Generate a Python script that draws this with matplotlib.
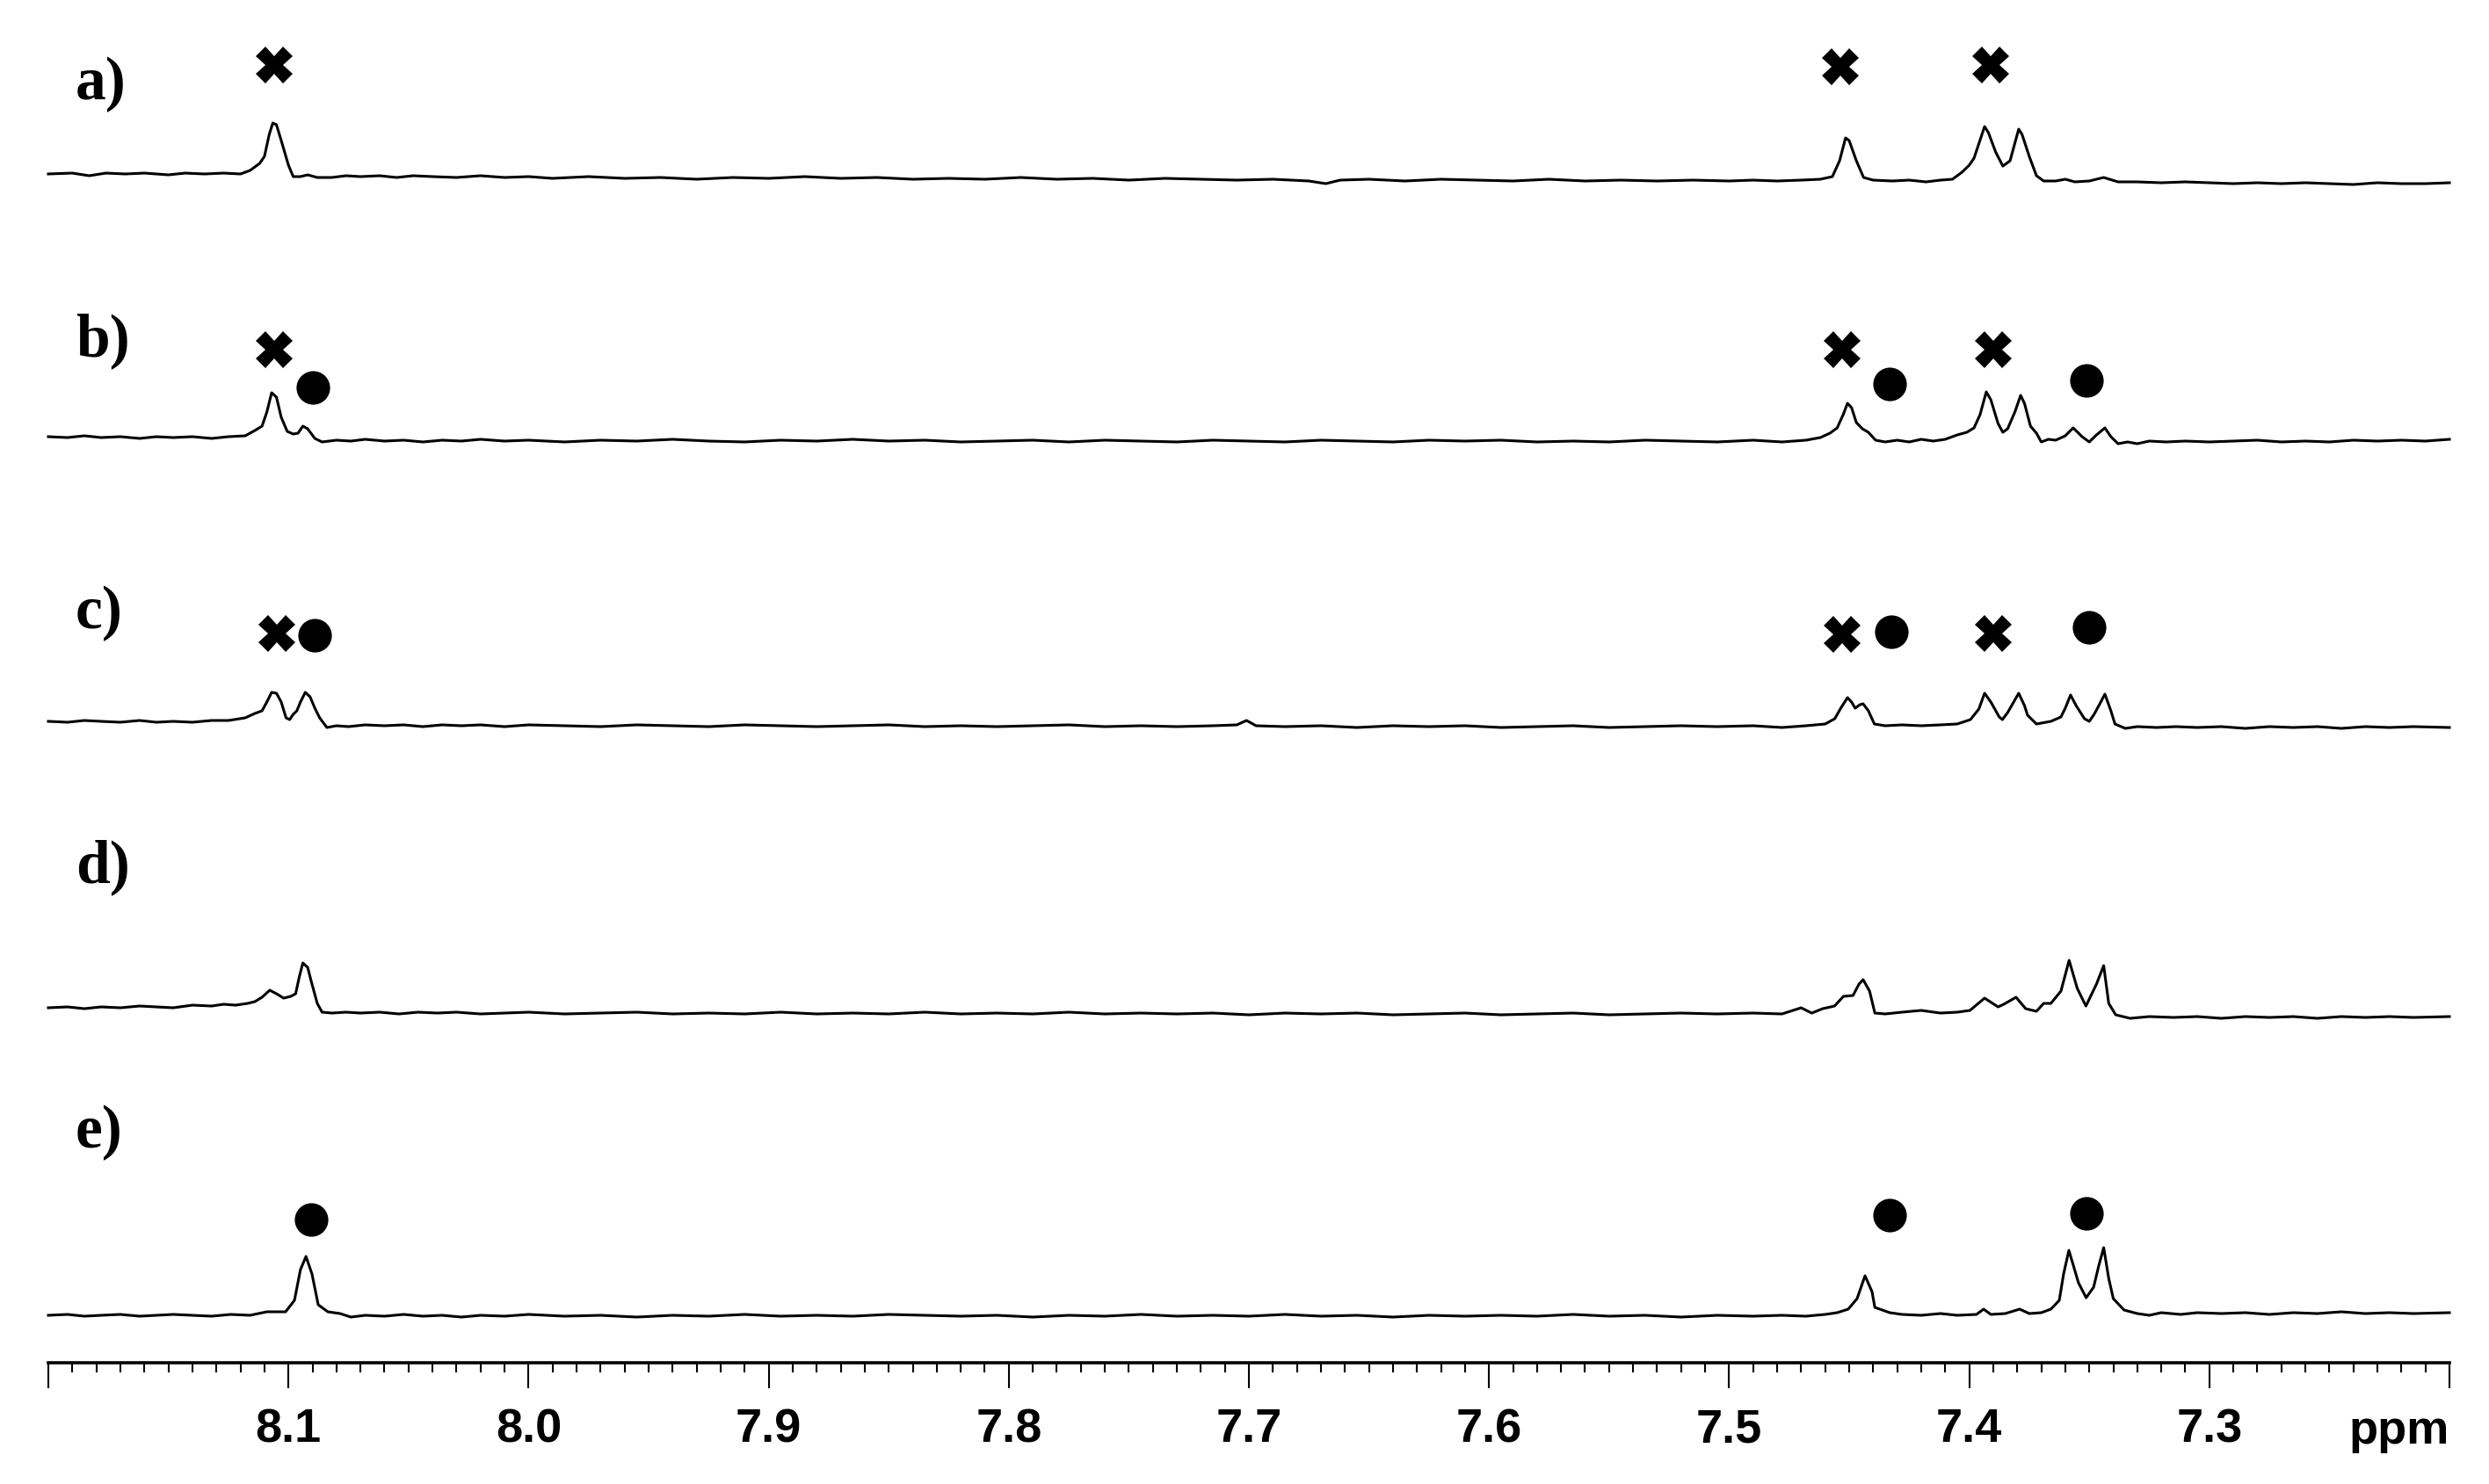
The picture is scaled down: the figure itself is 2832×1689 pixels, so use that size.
import matplotlib
matplotlib.use('Agg')
import matplotlib.pyplot as plt
from matplotlib import font_manager
from matplotlib.ticker import MultipleLocator

# ---------------- data (ppm, intensity above trace baseline) ----------------
trace_a = [(8.200,0),(8.190,1),(8.183,-2),(8.176,1),(8.168,0),(8.160,1),(8.150,-1),(8.143,1),(8.135,0),(8.127,1),
           (8.120,0),(8.116,4),(8.112,12),(8.110,20),(8.108,45),(8.1065,58),(8.105,56),(8.103,38),(8.100,10),(8.098,-3),
           (8.095,-3),(8.092,-1),(8.088,-4),(8.082,-4),(8.076,-2),(8.070,-3),(8.062,-2),(8.055,-4),(8.048,-2),(8.040,-3),
           (8.030,-4),(8.020,-2),(8.010,-4),(8.000,-3),(7.990,-5),(7.975,-3),(7.960,-5),(7.945,-4),(7.930,-6),(7.915,-4),
           (7.900,-5),(7.885,-3),(7.870,-5),(7.855,-4),(7.840,-6),(7.825,-5),(7.810,-6),(7.795,-4),(7.780,-6),(7.765,-5),
           (7.750,-7),(7.735,-5),(7.720,-6),(7.705,-7),(7.690,-6),(7.675,-8),(7.668,-11),(7.662,-7),(7.650,-6),(7.635,-8),
           (7.620,-6),(7.605,-7),(7.590,-8),(7.575,-6),(7.560,-8),(7.545,-7),(7.530,-8),(7.515,-7),(7.500,-8),(7.490,-7),
           (7.480,-8),(7.470,-7),(7.462,-6),(7.457,-3),(7.454,15),(7.4515,41),(7.450,38),(7.447,15),(7.444,-4),(7.440,-7),
           (7.432,-8),(7.425,-7),(7.418,-9),(7.412,-7),(7.407,-6),(7.403,2),(7.400,10),(7.398,18),(7.3936,54),(7.392,47),
           (7.389,25),(7.386,9),(7.383,15),(7.381,35),(7.3794,51),(7.378,45),(7.375,20),(7.372,-2),(7.369,-8),(7.364,-8),
           (7.360,-6),(7.356,-9),(7.350,-8),(7.344,-4),(7.338,-9),(7.330,-9),(7.320,-10),(7.310,-9),(7.300,-10),(7.290,-11),
           (7.280,-10),(7.270,-11),(7.260,-10),(7.250,-11),(7.240,-12),(7.230,-10),(7.220,-11),(7.210,-11),(7.200,-10)]

trace_b = [(8.200,0),(8.192,-1),(8.185,1),(8.178,-1),(8.170,0),(8.162,-2),(8.155,0),(8.148,-1),(8.140,0),(8.132,-2),
           (8.125,0),(8.118,1),(8.114,7),(8.111,12),(8.109,28),(8.107,50),(8.105,45),(8.103,22),(8.1005,6),(8.098,3),
           (8.096,4),(8.094,12),(8.092,9),(8.089,-2),(8.086,-6),(8.080,-4),(8.074,-5),(8.068,-3),(8.060,-5),(8.052,-4),
           (8.044,-6),(8.036,-4),(8.028,-5),(8.020,-3),(8.010,-5),(8.000,-4),(7.985,-6),(7.970,-4),(7.955,-5),(7.940,-3),
           (7.925,-5),(7.910,-6),(7.895,-4),(7.880,-5),(7.865,-3),(7.850,-5),(7.835,-4),(7.820,-6),(7.805,-5),(7.790,-4),
           (7.775,-6),(7.760,-4),(7.745,-5),(7.730,-6),(7.715,-4),(7.700,-5),(7.685,-6),(7.670,-4),(7.655,-5),(7.640,-6),
           (7.625,-4),(7.610,-5),(7.595,-4),(7.580,-6),(7.565,-5),(7.550,-6),(7.535,-4),(7.520,-5),(7.505,-6),(7.490,-4),
           (7.478,-6),(7.468,-4),(7.462,-1),(7.458,4),(7.455,10),(7.4525,25),(7.4507,38),(7.449,33),(7.447,16),(7.4445,9),
           (7.442,5),(7.439,-4),(7.435,-6),(7.430,-4),(7.425,-6),(7.420,-3),(7.415,-5),(7.410,-3),(7.405,2),(7.401,5),
           (7.398,10),(7.3955,25),(7.3929,51),(7.391,42),(7.388,15),(7.386,5),(7.384,9),(7.381,28),(7.3786,47),(7.377,38),
           (7.3745,12),(7.372,4),(7.370,-6),(7.367,-3),(7.364,-4),(7.360,1),(7.3567,10),(7.353,0),(7.350,-6),(7.347,2),
           (7.3435,10),(7.341,0),(7.338,-8),(7.334,-6),(7.330,-8),(7.325,-5),(7.318,-6),(7.310,-5),(7.300,-6),(7.290,-5),
           (7.280,-4),(7.270,-6),(7.260,-5),(7.250,-6),(7.240,-4),(7.230,-5),(7.220,-4),(7.210,-5),(7.200,-3)]

trace_c = [(8.200,0),(8.192,-1),(8.185,1),(8.178,0),(8.170,-1),(8.162,1),(8.155,-1),(8.148,0),(8.140,-1),(8.132,1),
           (8.125,1),(8.118,4),(8.114,9),(8.111,12),(8.109,22),(8.107,33),(8.105,32),(8.103,22),(8.101,4),(8.0995,2),
           (8.098,8),(8.0965,12),(8.095,22),(8.093,33),(8.091,28),(8.089,15),(8.087,4),(8.084,-7),(8.080,-5),(8.075,-6),
           (8.068,-4),(8.060,-5),(8.052,-4),(8.044,-6),(8.036,-4),(8.028,-5),(8.020,-4),(8.010,-6),(8.000,-4),(7.985,-5),
           (7.970,-6),(7.955,-4),(7.940,-5),(7.925,-6),(7.910,-4),(7.895,-5),(7.880,-6),(7.865,-5),(7.850,-4),(7.835,-6),
           (7.820,-5),(7.805,-6),(7.790,-5),(7.775,-4),(7.760,-6),(7.745,-5),(7.730,-6),(7.715,-5),(7.705,-4),(7.701,1),
           (7.697,-5),(7.685,-6),(7.670,-5),(7.655,-7),(7.640,-5),(7.625,-6),(7.610,-5),(7.595,-7),(7.580,-6),(7.565,-5),
           (7.550,-7),(7.535,-6),(7.520,-5),(7.505,-6),(7.490,-5),(7.478,-7),(7.468,-5),(7.460,-3),(7.456,3),(7.4535,15),
           (7.4507,27),(7.449,22),(7.4475,15),(7.4455,19),(7.4442,20),(7.442,12),(7.4395,-3),(7.435,-5),(7.428,-4),(7.420,-5),
           (7.412,-4),(7.405,-3),(7.3995,2),(7.396,14),(7.3936,32),(7.391,22),(7.3875,5),(7.3862,2),(7.384,10),(7.3815,22),
           (7.3794,32),(7.377,18),(7.3757,7),(7.372,-3),(7.366,0),(7.3618,5),(7.360,15),(7.3578,30),(7.3555,18),(7.352,3),
           (7.350,0),(7.348,8),(7.346,18),(7.3435,31),(7.341,12),(7.3393,-3),(7.335,-8),(7.330,-6),(7.322,-7),(7.314,-6),
           (7.305,-7),(7.295,-6),(7.285,-8),(7.275,-6),(7.265,-7),(7.255,-6),(7.245,-8),(7.235,-6),(7.225,-7),(7.215,-6),
           (7.200,-7)]

trace_d = [(8.200,0),(8.192,1),(8.185,-1),(8.178,1),(8.170,0),(8.162,2),(8.155,1),(8.148,0),(8.140,3),(8.132,2),
           (8.127,4),(8.122,3),(8.117,5),(8.114,7),(8.111,12),(8.1078,20),(8.105,16),(8.102,11),(8.099,13),(8.097,16),
           (8.0955,35),(8.094,51),(8.092,46),(8.0905,30),(8.088,5),(8.086,-5),(8.082,-6),(8.076,-5),(8.070,-6),(8.062,-5),
           (8.054,-7),(8.046,-5),(8.038,-6),(8.030,-5),(8.020,-7),(8.010,-6),(8.000,-5),(7.985,-7),(7.970,-6),(7.955,-5),
           (7.940,-7),(7.925,-6),(7.910,-7),(7.895,-5),(7.880,-7),(7.865,-6),(7.850,-7),(7.835,-5),(7.820,-7),(7.805,-6),
           (7.790,-7),(7.775,-5),(7.760,-7),(7.745,-6),(7.730,-7),(7.715,-6),(7.700,-8),(7.685,-6),(7.670,-7),(7.655,-6),
           (7.640,-8),(7.625,-7),(7.610,-6),(7.595,-8),(7.580,-7),(7.565,-6),(7.550,-8),(7.535,-7),(7.520,-6),(7.505,-7),
           (7.490,-6),(7.478,-7),(7.470,0),(7.4656,-6),(7.461,-1),(7.4561,2),(7.4524,13),(7.4484,14),(7.4459,27),(7.4442,32),
           (7.4415,19),(7.4393,-6),(7.435,-7),(7.428,-5),(7.420,-3),(7.412,-6),(7.405,-5),(7.3997,-3),(7.3936,11),(7.388,1),
           (7.3856,4),(7.3805,12),(7.3765,-1),(7.372,-4),(7.369,5),(7.366,5),(7.3618,19),(7.3584,54),(7.355,22),(7.3514,2),
           (7.347,27),(7.344,48),(7.3419,5),(7.339,-8),(7.333,-12),(7.325,-10),(7.315,-11),(7.305,-10),(7.295,-12),(7.285,-10),
           (7.275,-11),(7.265,-10),(7.255,-12),(7.245,-10),(7.235,-11),(7.225,-10),(7.215,-11),(7.200,-10)]

trace_e = [(8.200,0),(8.192,1),(8.185,-1),(8.178,0),(8.170,1),(8.162,-1),(8.155,0),(8.148,1),(8.140,0),(8.132,-1),
           (8.124,1),(8.116,0),(8.109,4),(8.1012,4),(8.0975,17),(8.095,52),(8.0927,67),(8.0902,47),(8.0876,12),(8.0836,4),
           (8.0785,2),(8.074,-2),(8.068,0),(8.060,-1),(8.052,1),(8.044,-1),(8.036,0),(8.028,-2),(8.020,0),(8.010,-1),
           (8.000,1),(7.985,-1),(7.970,0),(7.955,-2),(7.940,0),(7.925,-1),(7.910,1),(7.895,-1),(7.880,0),(7.865,-1),
           (7.850,1),(7.835,0),(7.820,-1),(7.805,0),(7.790,-2),(7.775,0),(7.760,-1),(7.745,1),(7.730,-1),(7.715,0),
           (7.700,-1),(7.685,1),(7.670,-1),(7.655,0),(7.640,-2),(7.625,0),(7.610,-1),(7.595,0),(7.580,-1),(7.565,1),
           (7.550,-1),(7.535,0),(7.520,-2),(7.505,0),(7.490,-1),(7.478,0),(7.468,-1),(7.460,1),(7.455,3),(7.4504,7),
           (7.4467,19),(7.4434,45),(7.4405,27),(7.4393,9),(7.4331,3),(7.428,1),(7.420,0),(7.412,2),(7.405,0),(7.397,1),
           (7.394,7),(7.391,1),(7.385,2),(7.379,7),(7.375,2),(7.370,3),(7.366,7),(7.3625,17),(7.3607,47),(7.3585,74),
           (7.3545,37),(7.3513,20),(7.3482,32),(7.346,57),(7.344,77),(7.3419,42),(7.340,19),(7.3355,6),(7.330,2),(7.325,0),
           (7.320,3),(7.312,1),(7.305,3),(7.295,2),(7.285,3),(7.275,1),(7.265,3),(7.255,2),(7.245,4),(7.235,2),
           (7.225,3),(7.215,2),(7.200,3)]

trace_labels = ['a)', 'b)', 'c)', 'd)', 'e)']

# marker annotations: (ppm, height in panel units)
cross_ppm = [8.106, 7.4536, 7.3909, 8.106, 7.453, 7.390, 8.105, 7.453, 7.390]
cross_y   = [1477, 1475, 1477, 1153, 1153, 1153, 830, 829, 830]
dot_ppm   = [8.090, 7.433, 7.351, 8.089, 7.4325, 7.350, 8.0906, 7.433, 7.351]
dot_y     = [1110, 1114, 1118, 828, 832, 837, 163, 168, 170]

major_ticks = [8.2, 8.1, 8.0, 7.9, 7.8, 7.7, 7.6, 7.5, 7.4, 7.3, 7.2]
major_labels = ['', '8.1', '8.0', '7.9', '7.8', '7.7', '7.6', '7.5', '7.4', '7.3', '']

# ---------------- layout ----------------
W, H = 2832, 1689
AX_L, AX_R, AX_Y = 55, 2787, 1551
offsets = [1353, 1054, 730, 404, 54]
label_base_px = [113, 405, 715, 1004, 1306]

installed = {f.name for f in font_manager.fontManager.ttflist}
tick_family = 'Liberation Sans Narrow' if 'Liberation Sans Narrow' in installed else 'Liberation Sans'
tick_size = 43 if tick_family == 'Liberation Sans Narrow' else 39

fig = plt.figure(figsize=(W / 100, H / 100), dpi=100)
ax = fig.add_axes([AX_L / W, (H - AX_Y) / H, (AX_R - AX_L) / W, AX_Y / H])
ax.set_xlim(8.2, 7.2)
ax.set_ylim(0, AX_Y)

for tr, off in zip([trace_a, trace_b, trace_c, trace_d, trace_e], offsets):
    xs = [p for p, v in tr]
    ys = [v + off for p, v in tr]
    ax.plot(xs, ys, color='black', lw=2.2, solid_joinstyle='round', clip_on=False)

ax.plot(cross_ppm, cross_y, ls='none', marker='X', ms=30, mew=0, color='black', clip_on=False)
ax.plot(dot_ppm, dot_y, ls='none', marker='o', ms=27.5, mew=0, color='black', clip_on=False)

for lab, yb in zip(trace_labels, label_base_px):
    fig.text(86 / W, 1 - yb / H, lab, ha='left', va='baseline',
             family='Liberation Serif', fontweight='bold', fontsize=50)

for s in ['left', 'right', 'top']:
    ax.spines[s].set_visible(False)
ax.spines['bottom'].set_linewidth(2.6)
ax.yaxis.set_visible(False)

ax.set_xticks(major_ticks)
ax.set_xticklabels(major_labels, family=tick_family, fontweight='bold', fontsize=tick_size)
ax.xaxis.set_minor_locator(MultipleLocator(0.01))
ax.tick_params(axis='x', which='major', length=21, width=1.5, pad=16, direction='out')
ax.tick_params(axis='x', which='minor', length=8, width=1.5, direction='out')

fig.text(AX_R / W, 1 - 1643 / H, 'ppm', ha='right', va='baseline',
         family=tick_family, fontweight='bold', fontsize=tick_size)

fig.savefig('out.png', dpi=100, facecolor='white')
